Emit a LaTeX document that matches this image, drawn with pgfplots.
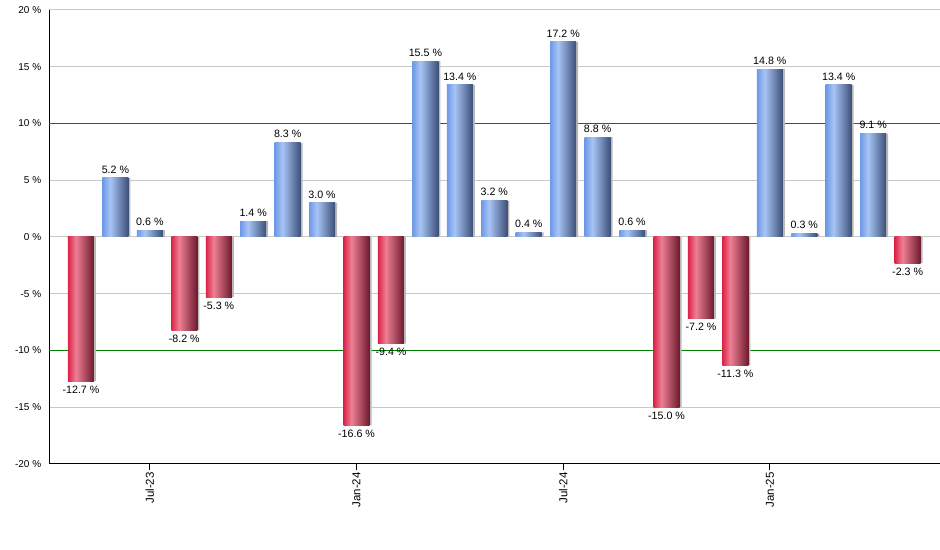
\documentclass[border=0pt]{standalone}
\usepackage{pgfplots}
\pgfplotsset{compat=1.18}
\usepackage{fontspec}
\setmainfont{Liberation Sans}
\definecolor{gridgray}{RGB}{200,200,200}
\definecolor{gridgreen}{RGB}{0,128,0}
\pgfdeclarehorizontalshading{bluebar}{100bp}{rgb(0bp)=(0.43,0.60,0.90); rgb(25bp)=(0.43,0.60,0.90); rgb(40bp)=(0.66,0.77,0.96); rgb(75bp)=(0.23,0.31,0.47); rgb(100bp)=(0.23,0.31,0.47)}
\pgfdeclarehorizontalshading{redbar}{100bp}{rgb(0bp)=(0.86,0.14,0.28); rgb(25bp)=(0.86,0.14,0.28); rgb(40bp)=(0.93,0.50,0.58); rgb(75bp)=(0.43,0.10,0.18); rgb(100bp)=(0.43,0.10,0.18)}
\pgfplotsset{
  posbar/.style={ybar, bar width=19.5pt, bar shift=0pt, draw=none, shade, shading=bluebar,
    nodes near coords, point meta=explicit symbolic,
    every node near coord/.style={font=\fontsize{8}{9.6}\selectfont, black, anchor=south}},
  negbar/.style={ybar, bar width=19.5pt, bar shift=0pt, draw=none, shade, shading=redbar,
    nodes near coords, point meta=explicit symbolic,
    every node near coord/.style={font=\fontsize{8}{9.6}\selectfont, black, anchor=north}},
}
\begin{document}
\begin{tikzpicture}
\begin{axis}[
  at={(37.1pt,64.5pt)}, anchor=south west,
  scale only axis, width=667.9pt, height=340.5pt,
  xmin=-0.915, xmax=24.94, ymin=-20, ymax=20,
  axis x line*=bottom, axis y line*=left,
  axis line style={black, line width=0.75pt, -},
  xtick={2,8,14,20}, xticklabels={Jul-23,Jan-24,Jul-24,Jan-25},
  x tick label style={rotate=90, anchor=east, font=\fontsize{8.6}{10}\selectfont, inner sep=1.5pt},
  xtick style={draw=black, line width=0.75pt},
  tick align=outside, major tick length=4.5pt,
  ytick={-20,-15,-10,-5,0,5,10,15,20},
  yticklabels={-20 \%,-15 \%,-10 \%,-5 \%,0 \%,5 \%,10 \%,15 \%,20 \%},
  ymajorgrids, grid style={draw=gridgray, line width=0.75pt},
  y tick label style={font=\fontsize{7.5}{9}\selectfont, inner sep=1.5pt},
  ytick style={draw=none},
  clip=false,
]
% green reference lines at +-10 %
\addplot[draw=gridgreen, line width=1pt, forget plot] coordinates {(-0.915,-10) (24.94,-10)};
\addplot[draw=gridgreen, line width=1pt, forget plot] coordinates {(-0.915,10) (24.94,10)};
% shadows
\addplot[ybar, bar width=19.5pt, bar shift=1.5pt, fill=gray!55, draw=none, forget plot] coordinates {
(0,-12.7) (1,5.2) (2,0.6) (3,-8.2) (4,-5.3) (5,1.4) (6,8.3) (7,3.0) (8,-16.6) (9,-9.4)
(10,15.5) (11,13.4) (12,3.2) (13,0.4) (14,17.2) (15,8.8) (16,0.6) (17,-15.0) (18,-7.2)
(19,-11.3) (20,14.8) (21,0.3) (22,13.4) (23,9.1) (24,-2.3)};
\addplot[negbar] coordinates {(0,-12.7) [-12.7 \%]};
\addplot[posbar] coordinates {(1,5.2) [5.2 \%]};
\addplot[posbar] coordinates {(2,0.6) [0.6 \%]};
\addplot[negbar] coordinates {(3,-8.2) [-8.2 \%]};
\addplot[negbar] coordinates {(4,-5.3) [-5.3 \%]};
\addplot[posbar] coordinates {(5,1.4) [1.4 \%]};
\addplot[posbar] coordinates {(6,8.3) [8.3 \%]};
\addplot[posbar] coordinates {(7,3.0) [3.0 \%]};
\addplot[negbar] coordinates {(8,-16.6) [-16.6 \%]};
\addplot[negbar] coordinates {(9,-9.4) [-9.4 \%]};
\addplot[posbar] coordinates {(10,15.5) [15.5 \%]};
\addplot[posbar] coordinates {(11,13.4) [13.4 \%]};
\addplot[posbar] coordinates {(12,3.2) [3.2 \%]};
\addplot[posbar] coordinates {(13,0.4) [0.4 \%]};
\addplot[posbar] coordinates {(14,17.2) [17.2 \%]};
\addplot[posbar] coordinates {(15,8.8) [8.8 \%]};
\addplot[posbar] coordinates {(16,0.6) [0.6 \%]};
\addplot[negbar] coordinates {(17,-15.0) [-15.0 \%]};
\addplot[negbar] coordinates {(18,-7.2) [-7.2 \%]};
\addplot[negbar] coordinates {(19,-11.3) [-11.3 \%]};
\addplot[posbar] coordinates {(20,14.8) [14.8 \%]};
\addplot[posbar] coordinates {(21,0.3) [0.3 \%]};
\addplot[posbar] coordinates {(22,13.4) [13.4 \%]};
\addplot[posbar] coordinates {(23,9.1) [9.1 \%]};
\addplot[negbar] coordinates {(24,-2.3) [-2.3 \%]};
\end{axis}
\pgfresetboundingbox
\path[use as bounding box] (0,0) rectangle (705pt,412.5pt);
\end{tikzpicture}
\end{document}
